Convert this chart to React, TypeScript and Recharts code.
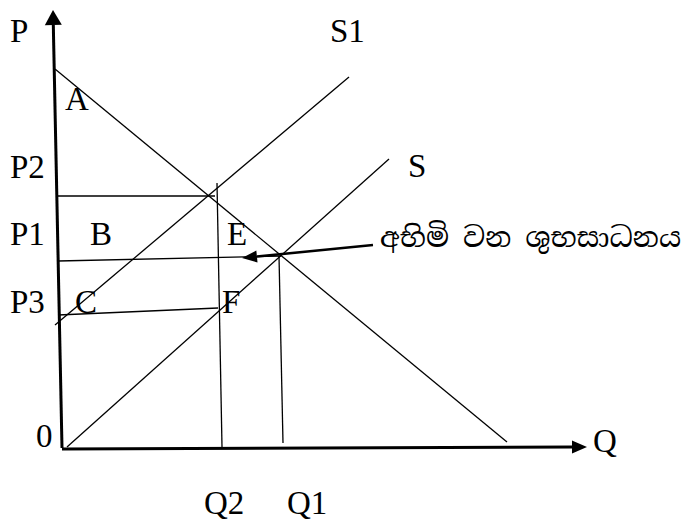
import { ComposedChart, XAxis, YAxis, ReferenceLine, Scatter } from 'recharts';

const W = 695;
const H = 524;

// Quantity / price units, origin where the axes meet
const Q_DOMAIN = [-6.2, 63.3];
const P_DOMAIN = [-7.6, 44.8];

// axes (drawn with arrow heads)
const axisP = [{ x: 0, y: 0 }, { x: -0.9, y: 43.8 }];
const axisQ = [{ x: 0, y: -0.1 }, { x: 52.5, y: 0.1 }];

// curves
const demand = [{ x: -0.7, y: 37.9 }, { x: 44.5, y: 0.6 }];
const supplyS1 = [{ x: -0.7, y: 12.3 }, { x: 28.7, y: 37.1 }];
const supplyS = [{ x: 0.5, y: 0.1 }, { x: 32.7, y: 28.9 }];

// guide lines
const lineP2 = [{ x: -0.4, y: 25.2 }, { x: 15.3, y: 25.2 }];
const lineP1 = [{ x: -0.4, y: 18.7 }, { x: 21.9, y: 19.2 }];
const lineP3 = [{ x: -0.4, y: 13.3 }, { x: 15.6, y: 14.0 }];
const lineQ2 = [{ x: 15.5, y: 26.5 }, { x: 16.0, y: 0.1 }];
const lineQ1 = [{ x: 21.7, y: 19.2 }, { x: 22.1, y: 0.5 }];

// pointer from the caption to E
const pointer = [{ x: 31.1, y: 20.3 }, { x: 18.0, y: 19.0 }];

// labels: left edge / baseline
const labels = [
  { x: -5.2, y: 40.6, label: 'P' },
  { x: 0.3, y: 33.8, label: 'A' },
  { x: -5.2, y: 27.0, label: 'P2' },
  { x: -5.2, y: 20.3, label: 'P1' },
  { x: 2.8, y: 20.3, label: 'B' },
  { x: 16.5, y: 20.3, label: 'E' },
  { x: -5.2, y: 13.5, label: 'P3' },
  { x: 1.3, y: 13.5, label: 'C' },
  { x: 16.0, y: 13.5, label: 'F' },
  { x: 26.8, y: 40.6, label: 'S1' },
  { x: 34.6, y: 27.1, label: 'S' },
  { x: 53.1, y: -0.4, label: 'Q' },
  { x: -2.6, y: 0.1, label: '0' },
  { x: 14.2, y: -6.6, label: 'Q2' },
  { x: 22.5, y: -6.6, label: 'Q1' },
];
const caption = [{ x: 31.8, y: 20.1, label: 'අභිමි වන ශුභසාධනය' }];

const FONT = '"Liberation Serif", "Times New Roman", serif';

function arrowShape(len: number, half: number, width: number) {
  return (props: any) => {
    const { x1, y1, x2, y2 } = props;
    const a = Math.atan2(y2 - y1, x2 - x1);
    const bx = x2 - len * Math.cos(a);
    const by = y2 - len * Math.sin(a);
    const px = -Math.sin(a) * half;
    const py = Math.cos(a) * half;
    return (
      <g>
        <line x1={x1} y1={y1} x2={bx} y2={by} stroke="#000" strokeWidth={width} />
        <polygon points={`${x2},${y2} ${bx + px},${by + py} ${bx - px},${by - py}`} fill="#000" />
      </g>
    );
  };
}

function LabelText(props: any) {
  const { cx, cy, payload } = props;
  return (
    <text x={cx} y={cy} fontFamily={FONT} fontSize={33} fill="#000">
      {payload.label}
    </text>
  );
}

function CaptionText(props: any) {
  const { cx, cy, payload } = props;
  return (
    <text
      x={cx}
      y={cy}
      fontFamily='"Noto Serif Sinhala", "Iskoola Pota", "Noto Sans Sinhala", serif'
      fontSize={28}
      fill="#000"
    >
      {payload.label}
    </text>
  );
}

const thin = { stroke: '#000', strokeWidth: 1.3 };

export default function App() {
  return (
    <div style={{ width: W, height: H, background: '#fff' }}>
      <style>{'body{margin:0}'}</style>
      <ComposedChart width={W} height={H} margin={{ top: 0, right: 0, bottom: 0, left: 0 }}>
        <XAxis type="number" dataKey="x" domain={Q_DOMAIN} hide />
        <YAxis type="number" dataKey="y" domain={P_DOMAIN} hide />

        <ReferenceLine segment={demand} {...thin} />
        <ReferenceLine segment={supplyS1} {...thin} />
        <ReferenceLine segment={supplyS} {...thin} />
        <ReferenceLine segment={lineP2} {...thin} />
        <ReferenceLine segment={lineP1} {...thin} />
        <ReferenceLine segment={lineP3} {...thin} />
        <ReferenceLine segment={lineQ2} {...thin} />
        <ReferenceLine segment={lineQ1} {...thin} />

        <ReferenceLine segment={axisP} shape={arrowShape(15, 8.5, 3)} />
        <ReferenceLine segment={axisQ} shape={arrowShape(15, 6.5, 3)} />
        <ReferenceLine segment={pointer} shape={arrowShape(15, 6, 2.5)} />

        <Scatter data={labels} shape={<LabelText />} isAnimationActive={false} />
        <Scatter data={caption} shape={<CaptionText />} isAnimationActive={false} />
      </ComposedChart>
    </div>
  );
}
